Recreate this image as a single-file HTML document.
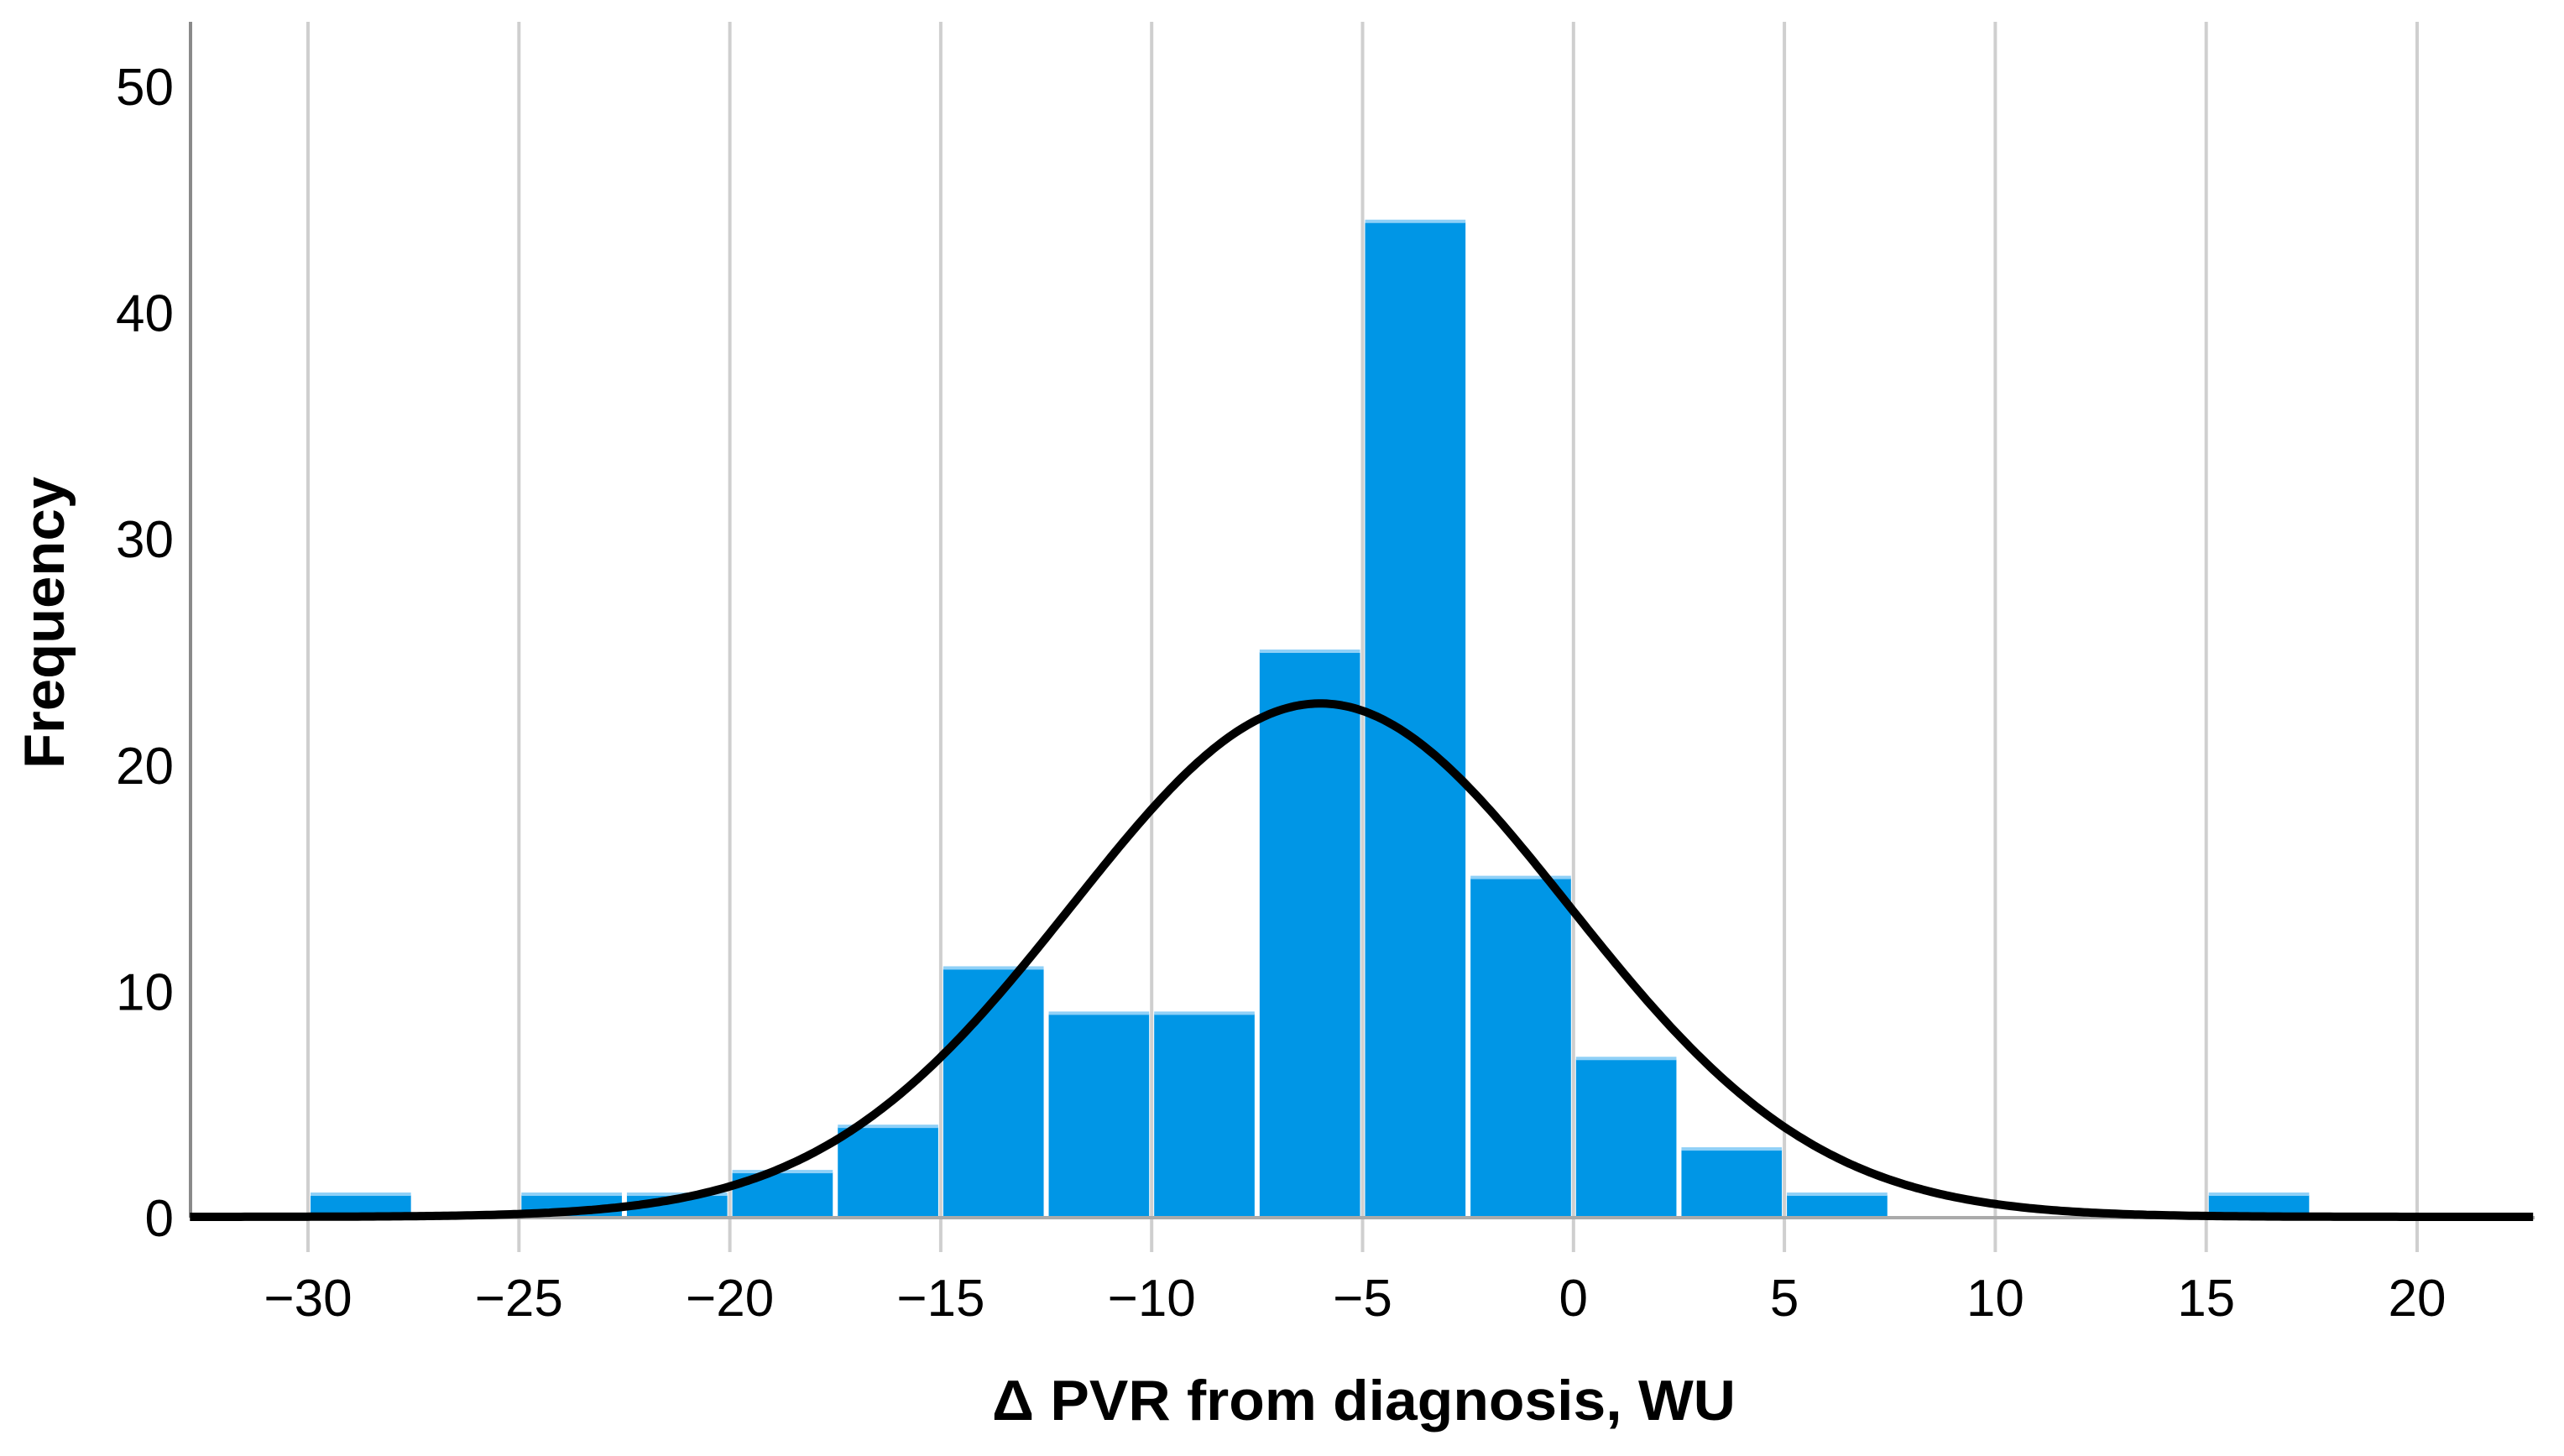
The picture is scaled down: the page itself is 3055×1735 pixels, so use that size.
<!DOCTYPE html>
<html><head><meta charset="utf-8"><style>
html,body{margin:0;padding:0;background:#fff;}
svg{display:block;}
text{font-family:"Liberation Sans",sans-serif;fill:#000;}
</style></head><body>
<svg id="chart" width="3055" height="1735" viewBox="0 0 3055 1735" xmlns="http://www.w3.org/2000/svg">
<g id="grid"></g>
<g id="bars"></g>
<g id="axes"></g>
<g id="curve"></g>
<text x="1625" y="1692" font-size="68" font-weight="bold" text-anchor="middle" textLength="886" lengthAdjust="spacingAndGlyphs">Δ PVR from diagnosis, WU</text>
<text transform="translate(76,742) rotate(-90)" font-size="68" font-weight="bold" text-anchor="middle" textLength="348" lengthAdjust="spacingAndGlyphs">Frequency</text>
</svg>
<script>
const binStarts = [-30,-27.5,-25,-22.5,-20,-17.5,-15,-12.5,-10,-7.5,-5,-2.5,0,2.5,5,7.5,10,12.5,15];
const binCounts = [1,0,1,1,2,4,11,9,9,25,44,15,7,3,1,0,0,0,1];
const binWidth = 2.5;
const xTicks = [-30,-25,-20,-15,-10,-5,0,5,10,15,20];
const yTicks = [0,10,20,30,40,50];
const normalMean = -6.0;
const normalSD = 5.89;
const sampleN = 134;

const NS = "http://www.w3.org/2000/svg";
const X0 = 367, XPU = 50.26, Y0 = 1451, YPU = 26.96;
const xs = v => X0 + (v + 30) * XPU;
const ys = v => Y0 - v * YPU;
const xMin = -32.8, xMax = 22.75;
function mk(tag, attrs, parent) {
  const e = document.createElementNS(NS, tag);
  for (const k in attrs) e.setAttribute(k, attrs[k]);
  parent.appendChild(e);
  return e;
}
const grid = document.getElementById('grid');
const bars = document.getElementById('bars');
const axes = document.getElementById('axes');
const curve = document.getElementById('curve');

xTicks.forEach(t => {
  const l = mk('line', {x1: xs(t), x2: xs(t), y1: 26, y2: 1492, stroke: '#cfcfcf', 'stroke-width': 4}, grid);
  
  
  const tx = mk('text', {x: xs(t), y: 1568, 'font-size': 62, 'text-anchor': 'middle'}, axes);
  tx.textContent = t < 0 ? '\u2212' + Math.abs(t) : String(t);
  
  
});
yTicks.forEach(t => {
  const tx = mk('text', {x: 207, y: ys(t) + 22, 'font-size': 62, 'text-anchor': 'end'}, axes);
  tx.textContent = String(t);
  
  
});

binStarts.forEach((b, i) => {
  const c = binCounts[i];
  if (!c) return;
  const x1 = xs(b) + 3, x2 = xs(b + binWidth) - 3;
  const r = mk('rect', {x: x1, y: ys(c), width: x2 - x1, height: Y0 - ys(c), fill: '#0096e6'}, bars);
  
  
  const e = mk('rect', {x: x1, y: ys(c) - 3, width: x2 - x1, height: 4, fill: '#8fd0f7'}, bars);
  
  
});

const yAxis = mk('line', {x1: 227, x2: 227, y1: 26, y2: Y0, stroke: '#8a8a8a', 'stroke-width': 4}, axes);


const xAxis = mk('line', {x1: 227, x2: 3020, y1: Y0, y2: Y0, stroke: '#aaaaaa', 'stroke-width': 4}, axes);



let d = '';
const scale = sampleN * binWidth / (normalSD * Math.sqrt(2 * Math.PI));
for (let i = 0; i <= 600; i++) {
  const v = xMin + (xMax - xMin) * i / 600;
  const f = scale * Math.exp(-Math.pow(v - normalMean, 2) / (2 * normalSD * normalSD));
  d += (i ? 'L' : 'M') + xs(v).toFixed(1) + ',' + (ys(f) - 1).toFixed(1);
}
const p = mk('path', {d: d, fill: 'none', stroke: '#000', 'stroke-width': 10, 'stroke-linejoin': 'round'}, curve);


</script>
</body></html>
